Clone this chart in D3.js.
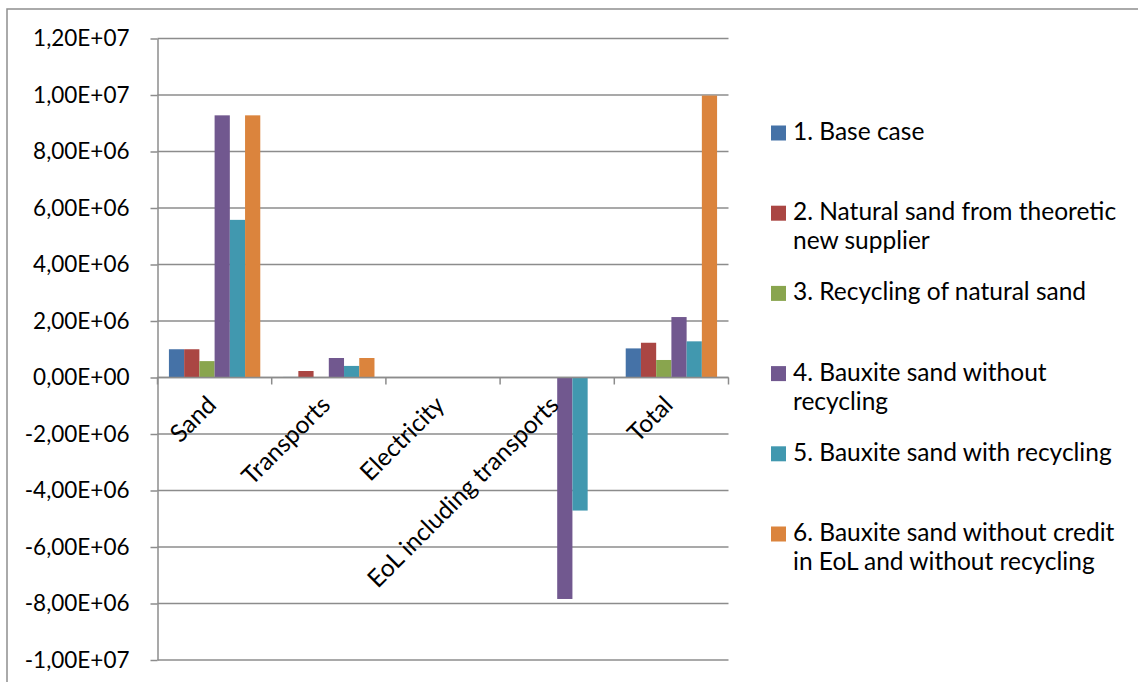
<!DOCTYPE html>
<html>
<head>
<meta charset="utf-8">
<script src="https://cdn.jsdelivr.net/npm/d3@7"></script>
<style>
  html, body { margin: 0; padding: 0; background: #fff; }
  svg { display: block; font-family: Lato, "Open Sans", sans-serif; }
</style>
</head>
<body>
<svg id="chart" width="1138" height="682"></svg>
<script>
// Categories along the x axis
const categories = ["Sand", "Transports", "Electricity", "EoL including transports", "Total"];

// Scenario names (legend), with line breaks as drawn
const seriesNames = [
  "1. Base case",
  "2. Natural sand from theoretic|new supplier",
  "3. Recycling of natural sand",
  "4. Bauxite sand without|recycling",
  "5. Bauxite sand with recycling",
  "6. Bauxite sand without credit|in EoL and without recycling"
];

// Values per scenario, one entry per category
const baseCase        = [1.00e6, 0.02e6, 0, 0, 1.03e6];
const naturalSandNew  = [1.00e6, 0.23e6, 0, 0, 1.23e6];
const recyclingNat    = [0.58e6, 0.01e6, 0, 0, 0.62e6];
const bauxiteNoRec    = [9.28e6, 0.69e6, 0, -7.84e6, 2.14e6];
const bauxiteRec      = [5.58e6, 0.41e6, 0, -4.71e6, 1.28e6];
const bauxiteNoCredit = [9.28e6, 0.69e6, 0, 0, 9.98e6];

const seriesValues = [baseCase, naturalSandNew, recyclingNat, bauxiteNoRec, bauxiteRec, bauxiteNoCredit];

// Y axis tick values and their labels
const yTicks = [1.2e7, 1.0e7, 8e6, 6e6, 4e6, 2e6, 0, -2e6, -4e6, -6e6, -8e6, -1e7];
const yTickLabels = ["1,20E+07", "1,00E+07", "8,00E+06", "6,00E+06", "4,00E+06", "2,00E+06",
                     "0,00E+00", "-2,00E+06", "-4,00E+06", "-6,00E+06", "-8,00E+06", "-1,00E+07"];

const colors = ["#4572A7", "#AA4643", "#89A54E", "#71588F", "#4198AF", "#DB843D"];

const svg = d3.select("#chart");
const gridColor = "#8c8c8c";

// Outer chart frame
svg.append("rect")
  .attr("x", 7).attr("y", 9)
  .attr("width", 1200).attr("height", 800)
  .attr("fill", "none")
  .attr("stroke", "#8f8f8f")
  .attr("stroke-width", 1.5);

const plot = { left: 157.5, right: 728.5, top: 38.5, bottom: 660 };

const y = d3.scaleLinear().domain([-1e7, 1.2e7]).range([plot.bottom, plot.top]);
const x0 = d3.scaleBand().domain(categories).range([plot.left, plot.right]).padding(0);
const x1 = d3.scaleBand().domain(d3.range(seriesNames.length))
  .range([x0.bandwidth() * 0.1, x0.bandwidth() * 0.9]).padding(0);

// Horizontal gridlines
svg.append("g").selectAll("line")
  .data(yTicks)
  .join("line")
  .attr("x1", plot.left).attr("x2", plot.right)
  .attr("y1", d => y(d)).attr("y2", d => y(d))
  .attr("stroke", gridColor).attr("stroke-width", 1.5);

// Vertical value axis with ticks and labels
const yAxis = d3.axisLeft(y)
  .tickValues(yTicks)
  .tickFormat((d, i) => yTickLabels[i])
  .tickSizeInner(7).tickSizeOuter(0).tickPadding(21);
const gy = svg.append("g").attr("transform", `translate(${plot.left},0)`).call(yAxis);
gy.select(".domain").attr("stroke", gridColor).attr("stroke-width", 1.5);
gy.selectAll(".tick line").attr("stroke", gridColor).attr("stroke-width", 1.5);
gy.selectAll(".tick text")
  .attr("font-size", 22.5).attr("fill", "#000")
  .attr("font-family", "Lato, sans-serif");

// Bars
const groups = svg.append("g").selectAll("g")
  .data(categories)
  .join("g")
  .attr("transform", d => `translate(${x0(d)},0)`);

groups.selectAll("rect")
  .data((c, ci) => seriesValues.map((vals, si) => ({ si, v: vals[ci] })))
  .join("rect")
  .attr("x", d => x1(d.si))
  .attr("width", x1.bandwidth())
  .attr("y", d => Math.min(y(d.v), y(0)))
  .attr("height", d => Math.abs(y(d.v) - y(0)))
  .attr("fill", d => colors[d.si]);

// Category axis along the zero line
const zeroY = y(0);
const xAxis = svg.append("g");
xAxis.append("line")
  .attr("x1", plot.left).attr("x2", plot.right)
  .attr("y1", zeroY).attr("y2", zeroY)
  .attr("stroke", gridColor).attr("stroke-width", 1.5);
const boundaries = categories.map(c => x0(c)).concat([plot.right]);
xAxis.selectAll("line.tick")
  .data(boundaries)
  .join("line")
  .attr("class", "tick")
  .attr("x1", d => d).attr("x2", d => d)
  .attr("y1", zeroY).attr("y2", zeroY + 7)
  .attr("stroke", gridColor).attr("stroke-width", 1.5);

xAxis.selectAll("text")
  .data(categories)
  .join("text")
  .attr("transform", d => `translate(${x0(d) + x0.bandwidth() / 2 + 3},${zeroY + 29}) rotate(-45)`)
  .attr("text-anchor", "end")
  .attr("font-size", 24.5)
  .attr("fill", "#000")
  .text(d => d);

// Legend
const legend = svg.append("g").attr("transform", "translate(771,0)");
const items = legend.selectAll("g")
  .data(seriesNames)
  .join("g")
  .attr("transform", (d, i) => `translate(0,${140 + i * 80.2})`);
items.append("rect")
  .attr("x", 0).attr("y", -14.5)
  .attr("width", 15).attr("height", 15)
  .attr("fill", (d, i) => colors[i]);
items.append("text")
  .attr("x", 22)
  .attr("font-size", 24.5)
  .attr("fill", "#000")
  .selectAll("tspan")
  .data(d => d.split("|"))
  .join("tspan")
  .attr("x", 22)
  .attr("dy", (d, i) => i === 0 ? 0 : 29)
  .text(d => d);
</script>
</body>
</html>
